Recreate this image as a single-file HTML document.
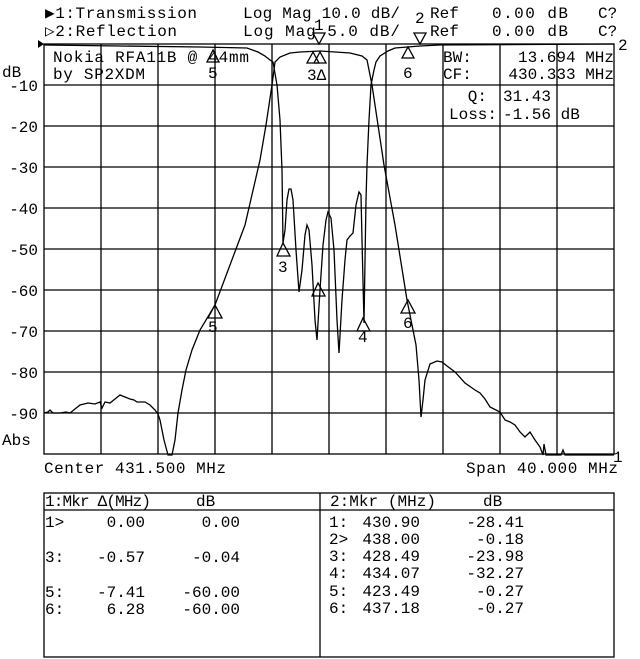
<!DOCTYPE html>
<html><head><meta charset="utf-8"><style>
html,body{margin:0;padding:0;background:#fff;}
svg{display:block;}
text{font-family:"Liberation Mono",monospace;font-size:16px;fill:#000;}
</style></head><body>
<svg width="640" height="659" viewBox="0 0 640 659" xmlns="http://www.w3.org/2000/svg">
<g stroke="#000" stroke-width="1.3" fill="none">
<rect x="44" y="44" width="570" height="410"/>
<path d="M101 44V454M158 44V454M215 44V454M272 44V454M329 44V454M386 44V454M443 44V454M500 44V454M557 44V454"/>
<path d="M44 85H614M44 126H614M44 167H614M44 208H614M44 249H614M44 290H614M44 331H614M44 372H614M44 413H614"/>
<!-- transmission -->
<polyline points="44,413 48,412 50,410 53,413 60,413 66,412 70,413 75,409 80,405 88,403 95,404 100,402 102,408 105,402 110,403 115,399 120,395 125,397 130,399 134,400 137,402 141,402 145,402 150,405 155,410 158,414 160,420 164,440 168,455 172,455 175,440 178,413 182,390 186,370 192,350 200,330 215,305 230,265 245,225 260,160 266,125 272,85 275,62 280,57 290,53 300,52 320,51 350,53 362,56 367,60 372,85 378,125 384,165 395,225 407,300 412,325 416,345 419,380 421,417 423,400 425,380 430,364 437,361 442,362 447,366 455,372 465,383 475,390 480,393 485,399 490,407 500,412 505,420 510,422 515,425 520,432 525,437 530,432 535,440 540,447 543,455 544,444 546,455 561,455 563,450 565,455 614,455"/>
<!-- reflection -->
<polyline points="44,45 120,46 200,47 247,48 258,52 265,56 270,60 273,62 277,85 280,120 282,170 283,243 285,230 287,200 289,189 291,189 293,200 296,250 299,292 302,270 305,235 307,225 309,230 312,265 315,320 317,340 320,290 323,245 326,220 328,212 331,218 334,250 337,320 339,353 342,300 345,260 347,240 350,236 353,233 356,205 359,192 361,195 362,240 364,323 366,200 367,165 369,120 371,85 374,70 376,62 380,56 388,51 395,48 420,46 440,45 614,44"/>
<!-- markers -->
<path d="M215,305 L208,318 L222,318 Z"/>
<path d="M408,300 L401,313 L415,313 Z"/>
<path d="M283,243 L277,256 L290,256 Z"/>
<path d="M363,318 L357,331 L370,331 Z"/>
<path d="M318,283 L312,296 L325,296 Z"/>
<path d="M213,50 L207,62 L219,62 Z"/>
<path d="M313,52 L307,63 L319,63 Z"/>
<path d="M320,52 L314,63 L326,63 Z"/>
<path d="M408,47 L402,58 L414,58 Z"/>
<path d="M313,33 L325,33 L319,44 Z"/>
<path d="M414,33 L426,33 L420,44 Z"/>
</g>
<path d="M38,40 L44,44 L38,48 Z" fill="#000"/>
<text x="45" y="18" textLength="152">▶1:Transmission</text>
<text x="45" y="36" textLength="132">▷2:Reflection</text>
<text x="243" y="18" textLength="157">Log Mag 10.0 dB/</text>
<text x="243" y="36" textLength="157">Log Mag  5.0 dB/</text>
<text x="430" y="18">Ref</text><text x="430" y="36">Ref</text>
<text x="492" y="18" textLength="76">0.00 dB</text>
<text x="492" y="36" textLength="76">0.00 dB</text>
<text x="598" y="18">C?</text><text x="598" y="36">C?</text>
<text x="314" y="30" font-size="14">1</text>
<text x="415" y="23" font-size="14">2</text>
<text x="618" y="50">2</text>
<text x="53" y="62" textLength="196">Nokia RFA11B @ 44mm</text>
<text x="53" y="79" textLength="92">by SP2XDM</text>
<text x="443" y="62">BW:</text><text x="443" y="79">CF:</text>
<text x="614" y="62" text-anchor="end">13.694 MHz</text>
<text x="614" y="79" text-anchor="end">430.333 MHz</text>
<text x="487" y="101" text-anchor="end">Q:</text>
<text x="497" y="119" text-anchor="end">Loss:</text>
<text x="503" y="101">31.43</text>
<text x="503" y="119">-1.56 dB</text>
<text x="208" y="78">5</text><text x="307" y="80">3Δ</text><text x="403" y="78">6</text>
<text x="208" y="332">5</text><text x="403" y="328">6</text>
<text x="278" y="272">3</text><text x="358" y="342">4</text>
<text x="2" y="77">dB</text>
<g text-anchor="end">
<text x="38" y="91">-10</text><text x="38" y="132">-20</text><text x="38" y="173">-30</text>
<text x="38" y="214">-40</text><text x="38" y="255">-50</text><text x="38" y="296">-60</text>
<text x="38" y="337">-70</text><text x="38" y="378">-80</text><text x="38" y="419">-90</text>
</g>
<text x="2" y="445">Abs</text>
<text x="44" y="473" textLength="182">Center 431.500 MHz</text>
<text x="466" y="473" textLength="152">Span 40.000 MHz</text>
<text x="613" y="462" font-size="14">1</text>
<g stroke="#000" stroke-width="1.3" fill="none">
<rect x="44" y="493" width="570" height="164"/>
<path d="M320 493V657M44 510H614"/>
</g>
<text x="45" y="506" textLength="106">1:Mkr Δ(MHz)</text><text x="196" y="506">dB</text>
<text x="330" y="506" textLength="106">2:Mkr (MHz)</text><text x="483" y="506">dB</text>
<g>
<text x="45" y="527">1&gt;</text><text x="145" y="527" text-anchor="end">0.00</text><text x="240" y="527" text-anchor="end">0.00</text>
<text x="45" y="562">3:</text><text x="145" y="562" text-anchor="end">-0.57</text><text x="240" y="562" text-anchor="end">-0.04</text>
<text x="45" y="597">5:</text><text x="145" y="597" text-anchor="end">-7.41</text><text x="240" y="597" text-anchor="end">-60.00</text>
<text x="45" y="614">6:</text><text x="145" y="614" text-anchor="end">6.28</text><text x="240" y="614" text-anchor="end">-60.00</text>
<text x="329" y="527">1:</text><text x="420" y="527" text-anchor="end">430.90</text><text x="524" y="527" text-anchor="end">-28.41</text>
<text x="329" y="544">2&gt;</text><text x="420" y="544" text-anchor="end">438.00</text><text x="524" y="544" text-anchor="end">-0.18</text>
<text x="329" y="561">3:</text><text x="420" y="561" text-anchor="end">428.49</text><text x="524" y="561" text-anchor="end">-23.98</text>
<text x="329" y="578">4:</text><text x="420" y="578" text-anchor="end">434.07</text><text x="524" y="578" text-anchor="end">-32.27</text>
<text x="329" y="596">5:</text><text x="420" y="596" text-anchor="end">423.49</text><text x="524" y="596" text-anchor="end">-0.27</text>
<text x="329" y="613">6:</text><text x="420" y="613" text-anchor="end">437.18</text><text x="524" y="613" text-anchor="end">-0.27</text>
</g>
</svg>
</body></html>
